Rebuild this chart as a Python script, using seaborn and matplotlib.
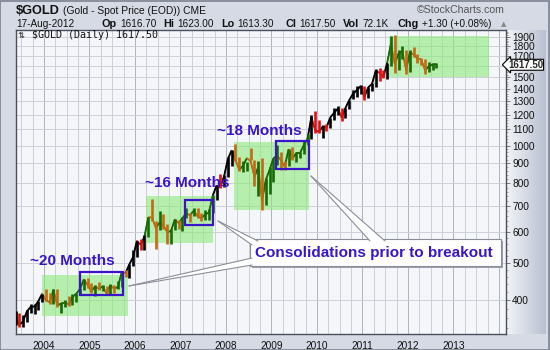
import numpy as np
import pandas as pd
import matplotlib
matplotlib.use("Agg")
import matplotlib.pyplot as plt
from matplotlib.patches import Rectangle, Polygon
from matplotlib.transforms import IdentityTransform
from matplotlib.ticker import FixedLocator, FixedFormatter, NullFormatter
from matplotlib.collections import LineCollection
from matplotlib.colors import LinearSegmentedColormap
import seaborn as sns

# ---------------- data (monthly bars) ----------------
first_month = "2003-05"
high = [375, 372, 368, 377, 392, 392, 399, 416,
        427, 418, 429, 428, 395, 400, 410, 415, 419, 431, 455, 456,
        443, 438, 445, 438, 436, 441, 438, 448, 475, 478, 497, 538,
        570, 574, 588, 654, 730, 640, 680, 665, 630, 610, 648, 645,
        655, 690, 672, 692, 690, 672, 684, 685, 745, 794, 845, 838,
        935, 975, 1011, 935, 915, 905, 988, 917, 912, 930, 825, 880,
        928, 1005, 960, 915, 980, 990, 960, 965, 1025, 1070, 1195, 1226,
        1162, 1127, 1134, 1180, 1248, 1265, 1245, 1249, 1310, 1388, 1424, 1432,
        1424, 1411, 1447, 1576, 1577, 1560, 1632, 1912, 1921, 1764, 1802, 1762,
        1764, 1790, 1720, 1680, 1668, 1640, 1630, 1625]
low = [345, 342, 342, 352, 371, 370, 377, 397,
       399, 392, 392, 385, 372, 384, 387, 390, 397, 412, 425, 431,
       418, 411, 425, 423, 414, 415, 418, 428, 433, 460, 456, 490,
       517, 540, 538, 583, 640, 543, 608, 610, 560, 560, 607, 610,
       603, 650, 636, 660, 650, 640, 645, 642, 670, 725, 780, 782,
       832, 885, 912, 860, 853, 860, 917, 786, 740, 681, 705, 752,
       805, 890, 867, 865, 884, 916, 905, 930, 950, 1003, 1040, 1075,
       1075, 1044, 1088, 1110, 1160, 1199, 1157, 1175, 1243, 1313, 1330, 1358,
       1309, 1324, 1381, 1417, 1462, 1495, 1478, 1600, 1534, 1565, 1672, 1523,
       1540, 1690, 1628, 1612, 1527, 1540, 1565, 1585]
close = [364, 346, 354, 375, 385, 386, 398, 416,
         400, 396, 426, 388, 393, 395, 391, 408, 416, 428, 453, 438,
         422, 435, 428, 435, 417, 437, 429, 433, 473, 470, 495, 517,
         569, 556, 583, 654, 653, 614, 634, 623, 599, 603, 646, 632,
         651, 669, 662, 680, 658, 650, 665, 673, 743, 789, 783, 834,
         923, 972, 917, 866, 887, 928, 912, 830, 880, 722, 816, 866,
         927, 942, 916, 883, 978, 926, 955, 955, 1001, 1040, 1182, 1097,
         1083, 1118, 1113, 1180, 1213, 1244, 1181, 1248, 1308, 1358, 1386, 1421,
         1333, 1410, 1439, 1556, 1536, 1500, 1628, 1827, 1620, 1723, 1746, 1565,
         1738, 1711, 1669, 1664, 1560, 1598, 1615, 1617.5]
last_close = 1617.50

year_ticks = [2004, 2005, 2006, 2007, 2008, 2009, 2010, 2011, 2012, 2013]
price_ticks = [400, 500, 600, 700, 800, 900, 1000, 1100, 1200, 1300,
               1400, 1500, 1600, 1700, 1800, 1900]
price_labels = ["400", "500", "600", "700", "800", "900", "1000", "1100",
                "1200", "1300", "1400", "1500", "", "1700", "1800", "1900"]

zone_x0 = [2003.96, 2006.24, 2008.17, 2011.59]
zone_x1 = [2005.84, 2007.71, 2009.82, 2013.77]
zone_lo = [364, 563, 684, 1501]
zone_hi = [464, 743, 1022, 1910]

box_x0 = [2004.79, 2007.10, 2009.11]
box_x1 = [2005.73, 2007.71, 2009.82]
box_lo = [414, 626, 871]
box_hi = [473, 724, 1028]

span_text = ["~20 Months", "~16 Months", "~18 Months"]
span_x = [2003.69, 2006.22, 2007.80]
span_y = [504, 802, 1091]

callout_text = "Consolidations prior to breakout"

header_labels = ["Op", "Hi", "Lo", "Cl", "Vol", "Chg"]
header_values = ["1616.70", "1623.00", "1613.30", "1617.50", "72.1K", "+1.30 (+0.08%)"]

# ---------------- derived positions ----------------
months = pd.period_range(first_month, periods=len(close), freq="M")
xs = np.array(months.year + (months.month - 0.5) / 12.0, dtype=float)
close_a = np.array(close, dtype=float)
prev = np.concatenate([[close_a[0]], close_a[:-1]])
up = close_a >= prev

def in_zone(x):
    return any(a <= x <= b for a, b in zip(zone_x0, zone_x1))

cols = []
for x, u in zip(xs, up):
    if in_zone(x):
        cols.append("#176A05" if u else "#C26A12")
    else:
        cols.append("#000000" if u else "#E01010")

df = pd.DataFrame({"x": xs, "close": close_a})

# ---------------- figure ----------------
W, H = 550, 350
sns.set_style("white")
plt.rcParams["font.family"] = ["Liberation Sans", "DejaVu Sans"]
fig = plt.figure(figsize=(W / 100, H / 100), dpi=100)
fig.patch.set_facecolor("#D5DAE4")

L, R, T, B = 16, 506, 30, 334
ax = fig.add_axes([L / W, (H - B) / H, (R - L) / W, (B - T) / H])
ax.set_facecolor("#F5F6FA")

# gradient strip behind the price scale
gax = fig.add_axes([R / W, (H - B) / H, 40 / W, (B - T) / H], zorder=-5)
grad = np.linspace(0, 1, 64).reshape(1, -1)
gcm = LinearSegmentedColormap.from_list("g", ["#F2F4F8", "#B9C0D0"])
gax.imshow(grad, aspect="auto", cmap=gcm, extent=[0, 1, 0, 1])
gax.set_axis_off()

ax.set_yscale("log")
ax.set_xlim(2003.385, 2014.154)
ax.set_ylim(328, 1980)

# grid
for q in np.arange(2003.25, 2014.2, 0.25):
    c = "#AEB2BE" if abs(q - round(q)) < 1e-6 else "#CCCFD8"
    ax.axvline(q, color=c, lw=0.7, zorder=0)
for p in price_ticks:
    ax.axhline(p, color="#CDD0D9", lw=0.7, zorder=0)

# green consolidation zones
for a, b, lo, hi in zip(zone_x0, zone_x1, zone_lo, zone_hi):
    ax.add_patch(Rectangle((a, lo), b - a, hi - lo, facecolor="#8EEA7E",
                           alpha=0.62, edgecolor="none", zorder=1))

# price: close line + monthly range bars
sns.lineplot(data=df, x="x", y="close", ax=ax, color="#444444", lw=0.8,
             zorder=2, legend=False)
segs = [[(xs[i - 1], close_a[i - 1]), (xs[i], close_a[i])] for i in range(1, len(xs))]
ax.add_collection(LineCollection(segs, colors=cols[1:], linewidths=1.3, zorder=3))
ax.vlines(xs, low, high, colors=cols, lw=1.9, zorder=3)

# blue boxes
for a, b, lo, hi in zip(box_x0, box_x1, box_lo, box_hi):
    ax.add_patch(Rectangle((a, lo), b - a, hi - lo, facecolor="none",
                           edgecolor="#3A14C8", lw=1.6, zorder=4))
for t, x, y in zip(span_text, span_x, span_y):
    ax.text(x, y, t, color="#3A14C8", fontsize=11, fontweight="bold",
            ha="left", va="center", zorder=5)

# axes styling
ax.yaxis.tick_right()
ax.yaxis.set_major_locator(FixedLocator(price_ticks))
ax.yaxis.set_major_formatter(FixedFormatter(price_labels))
ax.yaxis.set_minor_locator(FixedLocator(list(range(340, 1980, 20))))
ax.yaxis.set_minor_formatter(NullFormatter())
ax.tick_params(axis="y", which="major", length=3, width=0.6, color="#666",
               labelsize=7.3, pad=1.5, labelcolor="#111")
ax.tick_params(axis="y", which="minor", length=1.5, width=0.5, color="#888")
ax.set_xticks(year_ticks)
ax.set_xticklabels([str(y) for y in year_ticks])
ax.tick_params(axis="x", length=0, labelsize=7.3, pad=5, labelcolor="#111")
ax.set_xlabel("")
ax.set_ylabel("")
for s in ax.spines.values():
    s.set_color("#4A4F5E")
    s.set_linewidth(1.0)

# last price marker
ax.text(1.004, 1612, f"{last_close:.2f}", transform=ax.get_yaxis_transform(),
        fontsize=7.0, fontweight="bold", ha="left", va="center",
        bbox=dict(boxstyle="larrow,pad=0.05", fc="white", ec="black", lw=0.8),
        zorder=10, clip_on=False)

# ---------------- callout (pixel space) ----------------
def P(x, y):
    return (x, H - y)

idt = IdentityTransform()
bx0, bx1, by0, by1 = 250, 501, 239, 266
fig.patches.append(Rectangle(P(bx0 + 2, by1 + 2), bx1 - bx0, by1 - by0,
                             transform=idt, facecolor="#9A9EA8", edgecolor="none",
                             zorder=20))
fig.patches.append(Rectangle(P(bx0, by1), bx1 - bx0, by1 - by0,
                             transform=idt, facecolor="white", edgecolor="#8A8E98",
                             lw=0.8, zorder=21))
wedges = [((129, 286), (252, 258), (252, 265)),
          ((218, 221), (258, 241), (252, 245)),
          ((311, 176), (370, 241), (385, 241))]
for tip, b1, b2 in wedges:
    fig.patches.append(Polygon([P(*tip), P(*b1), P(*b2)], closed=True,
                               transform=idt, facecolor="white",
                               edgecolor="none", zorder=22))
    for b in (b1, b2):
        fig.lines.append(plt.Line2D([tip[0], b[0]], [H - tip[1], H - b[1]],
                                    transform=idt, color="#8A8E98", lw=0.8,
                                    zorder=23))
fig.text(255 / W, 1 - 253 / H, callout_text, color="#3A14C8", fontsize=11,
         fontweight="bold", ha="left", va="center", zorder=24)

# ---------------- header ----------------
def ftxt(x, y, s, **kw):
    return fig.text(x / W, 1 - y / H, s, ha="left", va="center", **kw)

renderer = fig.canvas.get_renderer()
ftxt(16, 11, "$GOLD", fontsize=9.2, fontweight="bold", color="#111")
ftxt(63, 11, "(Gold - Spot Price (EOD)) CME", fontsize=7.4, color="#111")
ftxt(16, 24, "17-Aug-2012", fontsize=7.2, color="#111")
label_x = [102, 163, 221, 285, 343, 398]
for x1, lab, val in zip(label_x, header_labels, header_values):
    t = ftxt(x1, 24, lab, fontsize=7.8, fontweight="bold", color="#111")
    ext = t.get_window_extent(renderer)
    ftxt(ext.x1 + 3, 24, val, fontsize=7.2, color="#111")
ftxt(501, 24, "\u25B2", fontsize=5, color="#888", family="DejaVu Sans")
ftxt(417, 10, "\u00A9StockCharts.com", fontsize=7.6, color="#555")
ftxt(18, 35, "\u21C5", fontsize=6, color="#222", family="DejaVu Sans")
ftxt(32, 35, "$GOLD (Daily) 1617.50", fontsize=7.2, color="#111",
     family="DejaVu Sans Mono")

# outer frame
fig.patches.append(Rectangle((0, 0), W - 1, H - 1, transform=idt,
                             facecolor="none", edgecolor="#7C8290", lw=1.2,
                             zorder=30))

fig.savefig("out.png", dpi=100, facecolor=fig.get_facecolor())
